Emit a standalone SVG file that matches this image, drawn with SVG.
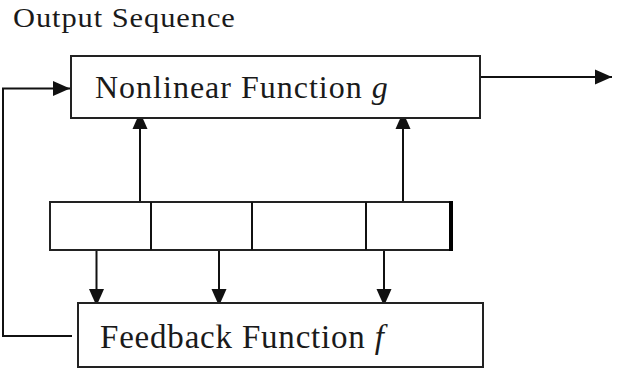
<svg xmlns="http://www.w3.org/2000/svg" width="621" height="371" viewBox="0 0 621 371">
<style>
.box{fill:#fff;stroke:#222;stroke-width:2}
.ln{fill:none;stroke:#111;stroke-width:2}
.t{font-family:'Liberation Serif','DejaVu Serif',serif;fill:#1a1a1a}
</style>
<defs>
<marker id="ah" markerUnits="userSpaceOnUse" markerWidth="18" markerHeight="16" refX="17" refY="8" orient="auto">
<path d="M0,0.5 L17,8 L0,15.5 z" fill="#111"/>
</marker>
</defs>
<rect width="621" height="371" fill="#fff"/>
<g id="title"><text class="t" transform="translate(13,27) scale(1.15,1)" x="0" y="0" font-size="26.5" letter-spacing="0.8">Output Sequence</text></g>
<g id="connectors">
<path class="ln" d="M480,77 H612" marker-end="url(#ah)"/>
<path class="ln" d="M72,336 H3 V88.5 H70" marker-end="url(#ah)"/>
<path class="ln" d="M140,202 V112" marker-end="url(#ah)"/>
<path class="ln" d="M403,202 V112" marker-end="url(#ah)"/>
<path class="ln" d="M96.5,250 V306" marker-end="url(#ah)"/>
<path class="ln" d="M219,250 V306" marker-end="url(#ah)"/>
<path class="ln" d="M384,250 V306" marker-end="url(#ah)"/>
</g>
<g id="nonlinear">
<rect class="box" x="71" y="56" width="409" height="62"/>
<text class="t" x="95" y="98" font-size="32" letter-spacing="1">Nonlinear Function <tspan font-style="italic">g</tspan></text>
</g>
<g id="register">
<rect class="box" x="50" y="202" width="401" height="48"/>
<path class="ln" d="M151,202 V250 M252,202 V250 M366,202 V250"/>
<path d="M451,201 V251" stroke="#000" stroke-width="4"/>
</g>
<g id="feedback">
<rect class="box" x="78" y="303" width="405" height="64"/>
<text class="t" x="100" y="348" font-size="33" letter-spacing="0.8">Feedback Function <tspan font-style="italic">f</tspan></text>
</g>
</svg>
